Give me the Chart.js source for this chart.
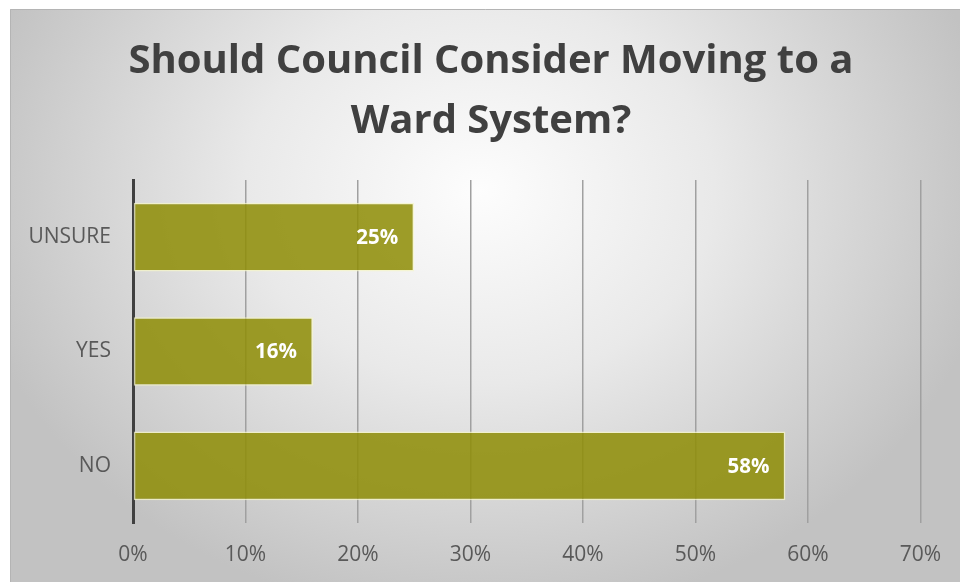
<!DOCTYPE html>
<html>
<head>
<meta charset="utf-8">
<script src="https://cdn.jsdelivr.net/npm/chart.js@4/dist/chart.umd.min.js"></script>
<style>
html,body{margin:0;padding:0;background:#fff;}
#wrap{position:relative;width:960px;height:582px;}
canvas{display:block;}
</style>
</head>
<body>
<div id="wrap"><canvas id="c" width="960" height="582"></canvas></div>
<script>
const titleLines = ["Should Council Consider Moving to a", "Ward System?"];
const categories = ["UNSURE", "YES", "NO"];
const values = [25, 16, 58];
const xTicks = [0, 10, 20, 30, 40, 50, 60, 70];

const bgPlugin = {
  id: 'bgPanel',
  beforeDraw(chart) {
    const ctx = chart.ctx;
    ctx.save();
    ctx.fillStyle = '#ffffff';
    ctx.fillRect(0, 0, chart.width, chart.height);
    const x0 = 10, y0 = 9, w = chart.width - x0, h = chart.height - y0;
    const cx = 480, cy = 190, rx = 520, ry = 430;
    ctx.beginPath();
    ctx.rect(x0, y0, w, h);
    ctx.clip();
    ctx.translate(cx, cy);
    ctx.scale(1, ry / rx);
    const g = ctx.createRadialGradient(0, 0, 0, 0, 0, rx);
    g.addColorStop(0, '#fdfdfd');
    g.addColorStop(0.45, '#e9e9e9');
    g.addColorStop(1, '#c2c2c2');
    ctx.fillStyle = g;
    ctx.fillRect(-cx, -cy * rx / ry, chart.width * 2, chart.height * 2 * rx / ry);
    ctx.restore();
    ctx.save();
    ctx.strokeStyle = '#b4b4b4';
    ctx.lineWidth = 1;
    ctx.beginPath();
    ctx.moveTo(10.5, chart.height);
    ctx.lineTo(10.5, 9.5);
    ctx.lineTo(chart.width, 9.5);
    ctx.stroke();
    ctx.restore();
  }
};

const titlePlugin = {
  id: 'titleText',
  afterDraw(chart) {
    const ctx = chart.ctx;
    ctx.save();
    ctx.font = 'bold 40px "Open Sans"';
    ctx.fillStyle = '#404040';
    ctx.textAlign = 'center';
    ctx.textBaseline = 'middle';
    titleLines.forEach((t, i) => ctx.fillText(t, 491, 62 + i * 60));
    ctx.restore();
  }
};

const labelPlugin = {
  id: 'barLabels',
  afterDatasetsDraw(chart) {
    const ctx = chart.ctx;
    const meta = chart.getDatasetMeta(0);
    ctx.save();
    ctx.font = 'bold 20.5px "Open Sans"';
    ctx.fillStyle = '#ffffff';
    ctx.textAlign = 'right';
    ctx.textBaseline = 'middle';
    meta.data.forEach((bar, i) => {
      ctx.fillText(values[i] + '%', bar.x - 16, bar.y + 1);
    });
    ctx.restore();
  }
};

new Chart(document.getElementById('c'), {
  type: 'bar',
  data: {
    labels: categories,
    datasets: [{
      data: values,
      backgroundColor: 'rgba(142,141,6,0.86)',
      borderColor: 'rgba(245,245,200,0.75)',
      borderWidth: 1.5,
      borderSkipped: false,
      categoryPercentage: 1,
      barPercentage: 0.6
    }]
  },
  options: {
    indexAxis: 'y',
    responsive: false,
    animation: false,
    events: [],
    layout: { padding: { left: 10, right: 39, top: 180, bottom: 0 } },
    plugins: {
      legend: { display: false },
      tooltip: { enabled: false },
      title: { display: false }
    },
    scales: {
      x: {
        min: 0, max: 70,
        afterBuildTicks(scale) { scale.ticks = xTicks.map(v => ({ value: v })); },
        afterFit(scale) { scale.height = 59; },
        ticks: {
          color: '#595959',
          font: { family: '"Open Sans"', size: 21 },
          padding: 19,
          callback: (v) => v + '%'
        },
        grid: { color: '#a0a0a0', lineWidth: 1.5, drawTicks: false },
        border: { display: false }
      },
      y: {
        afterFit(scale) { scale.width = 123; },
        ticks: {
          color: '#595959',
          font: { family: '"Open Sans"', size: 21 },
          padding: 22
        },
        grid: { display: false, drawTicks: false },
        border: { display: true, color: '#404040', width: 3 }
      }
    }
  },
  plugins: [bgPlugin, titlePlugin, labelPlugin]
});
</script>
</body>
</html>
